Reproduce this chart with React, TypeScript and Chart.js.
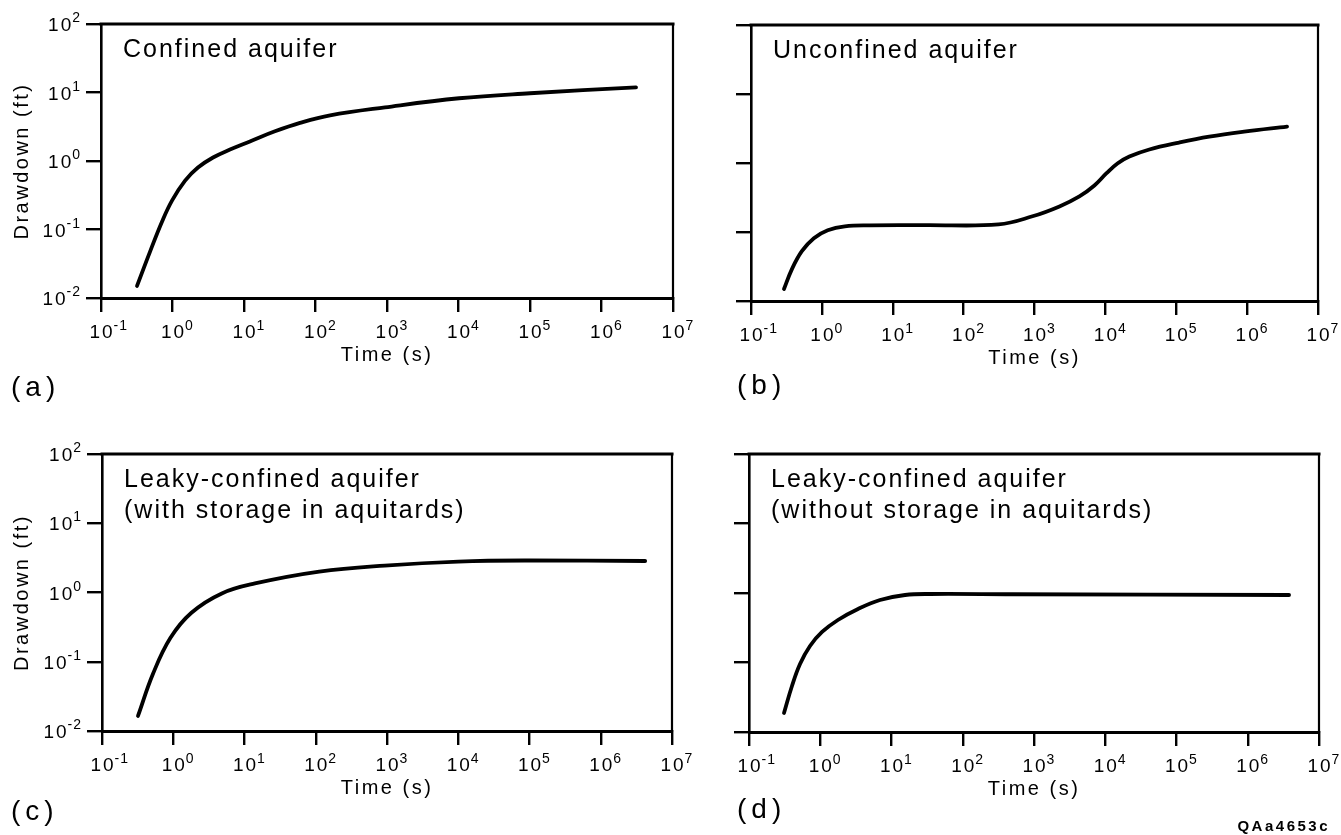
import React, { useEffect, useRef } from "react";
import { Chart, registerables } from "chart.js";

Chart.register(...registerables);

const FONT = "'Liberation Sans', Arial, Helvetica, sans-serif";

// Axis ticks and labels
const X_TICKS = [0.1, 1, 10, 100, 1000, 10000, 100000, 1000000, 10000000];
const X_TICK_EXPONENTS = ["-1", "0", "1", "2", "3", "4", "5", "6", "7"];
const Y_TICKS = [0.01, 0.1, 1, 10, 100];
const Y_TICK_EXPONENTS = ["-2", "-1", "0", "1", "2"];
const TICK_BASE = "10";

const X_TITLE = "Time (s)";
const Y_TITLE = "Drawdown (ft)";

// (a) Confined aquifer
const TIME_A = [0.319, 0.484, 0.713, 0.984, 1.5, 2.27, 3.69, 6.37, 12.1, 27.1, 60.7, 160, 938, 10200, 100000, 3040000];
const DRAWDOWN_A = [0.015, 0.0472, 0.13, 0.264, 0.518, 0.803, 1.125, 1.47, 1.93, 2.71, 3.6, 4.64, 6.08, 8.24, 9.75, 11.9];

// (b) Unconfined aquifer
const TIME_B = [0.292, 0.378, 0.522, 0.771, 1.21, 2.11, 4.74, 29, 311, 937, 2250, 4300, 7000, 10300, 14800, 21800, 41700, 110000, 292000, 908000, 3660000];
const DRAWDOWN_B = [0.0149, 0.029, 0.0527, 0.0813, 0.106, 0.121, 0.125, 0.126, 0.129, 0.169, 0.235, 0.328, 0.473, 0.705, 0.984, 1.24, 1.57, 1.98, 2.41, 2.85, 3.37];

// (c) Leaky-confined aquifer (with storage in aquitards)
const TIME_C = [0.32, 0.52, 0.91, 1.8, 4.8, 14, 112, 930, 10000, 100000, 4200000];
const DRAWDOWN_C = [0.0165, 0.067, 0.22, 0.51, 0.97, 1.35, 2.0, 2.45, 2.8, 2.9, 2.85];

// (d) Leaky-confined aquifer (without storage in aquitards)
const TIME_D = [0.31, 0.401, 0.52, 0.718, 1.06, 1.77, 3.39, 6.9, 15.5, 34.7, 491, 3800000];
const DRAWDOWN_D = [0.0188, 0.0459, 0.0951, 0.173, 0.275, 0.409, 0.589, 0.793, 0.936, 0.968, 0.96, 0.936];

const NOTE_A = ["Confined aquifer"];
const NOTE_B = ["Unconfined aquifer"];
const NOTE_C = ["Leaky-confined aquifer", "(with storage in aquitards)"];
const NOTE_D = ["Leaky-confined aquifer", "(without storage in aquitards)"];
const CODE_LABEL = "QAa4653c";

type PanelDef = {
  key: string;
  x: number;
  y: number;
  w: number;
  h: number;
  area: { l: number; r: number; t: number; b: number };
  letter: string;
  letterPos: { x: number; y: number };
  notes: string[];
  yLabels: boolean;
  time: number[];
  dd: number[];
  code?: boolean;
};

const PANELS: PanelDef[] = [
  { key: "a", x: 0, y: 0, w: 700, h: 417, area: { l: 101, r: 673, t: 24, b: 298 }, letter: "(a)", letterPos: { x: 11, y: 396 }, notes: NOTE_A, yLabels: true, time: TIME_A, dd: DRAWDOWN_A },
  { key: "b", x: 700, y: 0, w: 641, h: 417, area: { l: 51, r: 618, t: 25, b: 301 }, letter: "(b)", letterPos: { x: 37, y: 394 }, notes: NOTE_B, yLabels: false, time: TIME_B, dd: DRAWDOWN_B },
  { key: "c", x: 0, y: 417, w: 700, h: 418, area: { l: 102, r: 672, t: 37, b: 314 }, letter: "(c)", letterPos: { x: 11, y: 403 }, notes: NOTE_C, yLabels: true, time: TIME_C, dd: DRAWDOWN_C },
  { key: "d", x: 700, y: 417, w: 641, h: 418, area: { l: 49, r: 619, t: 37, b: 315 }, letter: "(d)", letterPos: { x: 37, y: 401 }, notes: NOTE_D, yLabels: false, time: TIME_D, dd: DRAWDOWN_D, code: true },
];

const decorPlugin = {
  id: "panelDecor",
  beforeDraw(chart: any) {
    (chart.ctx as any).letterSpacing = "2.5px";
  },
  afterDraw(chart: any, _args: any, opts: any) {
    const ctx = chart.ctx as any;
    const ca = chart.chartArea;
    const xs = chart.scales.x;
    const ys = chart.scales.y;
    ctx.save();
    ctx.strokeStyle = "#000";
    ctx.fillStyle = "#000";
    // top and right frame lines
    ctx.lineCap = "square";
    ctx.lineWidth = 3;
    ctx.beginPath();
    ctx.moveTo(ca.left, ca.top);
    ctx.lineTo(ca.right, ca.top);
    ctx.stroke();
    ctx.lineWidth = 2.2;
    ctx.beginPath();
    ctx.moveTo(ca.right, ca.top);
    ctx.lineTo(ca.right, ca.bottom);
    ctx.stroke();

    const baseFont = `19px ${FONT}`;
    const expFont = `14px ${FONT}`;
    ctx.textBaseline = "alphabetic";
    // x tick labels
    X_TICKS.forEach((v, i) => {
      const px = xs.getPixelForValue(v);
      ctx.font = baseFont;
      ctx.letterSpacing = "2px";
      const bw = ctx.measureText(TICK_BASE).width;
      ctx.textAlign = "left";
      ctx.fillText(TICK_BASE, px - (bw - 2) / 2, ca.bottom + 40);
      ctx.font = expFont;
      ctx.letterSpacing = "1px";
      ctx.fillText(X_TICK_EXPONENTS[i], px + (bw - 2) / 2 + 1, ca.bottom + 32);
    });
    // y tick labels
    if (opts.yLabels) {
      Y_TICKS.forEach((v, i) => {
        const py = ys.getPixelForValue(v);
        const right = ca.left - 20;
        ctx.font = expFont;
        ctx.letterSpacing = "1px";
        const ew = ctx.measureText(Y_TICK_EXPONENTS[i]).width;
        ctx.textAlign = "left";
        ctx.fillText(Y_TICK_EXPONENTS[i], right - ew, py - 2);
        ctx.font = baseFont;
        ctx.letterSpacing = "2px";
        const bw = ctx.measureText(TICK_BASE).width;
        ctx.fillText(TICK_BASE, right - ew - bw + 1, py + 7);
      });
    }
    // annotation inside the plot
    ctx.font = `25px ${FONT}`;
    ctx.letterSpacing = "2px";
    ctx.textAlign = "left";
    opts.notes.forEach((line: string, i: number) => {
      ctx.fillText(line, ca.left + 22, ca.top + 33 + i * 31);
    });
    // panel letter
    ctx.font = `28px ${FONT}`;
    ctx.letterSpacing = "5px";
    ctx.fillText(opts.letter, opts.letterPos.x, opts.letterPos.y);
    if (opts.code) {
      ctx.font = `bold 15px ${FONT}`;
      ctx.letterSpacing = "2.5px";
      ctx.textAlign = "right";
      ctx.fillText(CODE_LABEL, chart.width - 11, chart.height - 4);
    }
    ctx.restore();
  },
};

function Panel({ p }: { p: PanelDef }) {
  const ref = useRef<HTMLCanvasElement | null>(null);
  useEffect(() => {
    if (!ref.current) return;
    const a = p.area;
    const chart = new Chart(ref.current, {
      type: "line",
      data: {
        datasets: [
          {
            data: p.time.map((t, i) => ({ x: t, y: p.dd[i] })),
            borderColor: "#000",
            borderWidth: 3.8,
            pointRadius: 0,
            fill: false,
            tension: 0.4,
            cubicInterpolationMode: "default",
            borderCapStyle: "round",
            borderJoinStyle: "round",
          } as any,
        ],
      },
      options: {
        animation: false,
        responsive: false,
        maintainAspectRatio: false,
        devicePixelRatio: 1,
        events: [],
        layout: { padding: { left: 0, top: a.t, right: p.w - a.r, bottom: 0 } },
        plugins: {
          legend: { display: false },
          tooltip: { enabled: false },
          title: { display: false },
          panelDecor: { yLabels: p.yLabels, notes: p.notes, letter: p.letter, letterPos: p.letterPos, code: !!p.code },
        } as any,
        scales: {
          x: {
            type: "logarithmic",
            position: "bottom",
            min: 0.1,
            max: 10000000,
            afterBuildTicks: (s: any) => {
              s.ticks = X_TICKS.map((v) => ({ value: v }));
            },
            afterFit: (s: any) => {
              s.height = p.h - a.b;
            },
            ticks: { display: false },
            grid: { drawOnChartArea: false, drawTicks: true, tickLength: 14, color: "#000", lineWidth: 2.4 },
            border: { display: true, color: "#000", width: 3 },
            title: {
              display: true,
              text: X_TITLE,
              color: "#000",
              font: { family: FONT, size: 20 },
              padding: { top: 0, bottom: p.h - a.b - 57 - 12 },
            },
          },
          y: {
            type: "logarithmic",
            position: "left",
            min: 0.01,
            max: 100,
            afterBuildTicks: (s: any) => {
              s.ticks = Y_TICKS.map((v) => ({ value: v }));
            },
            afterFit: (s: any) => {
              s.width = a.l;
            },
            ticks: { display: false },
            grid: { drawOnChartArea: false, drawTicks: true, tickLength: 15, color: "#000", lineWidth: 2.4 },
            border: { display: true, color: "#000", width: 2.6 },
            title: {
              display: p.yLabels,
              text: Y_TITLE,
              color: "#000",
              font: { family: FONT, size: 20 },
              padding: { top: 10, bottom: 0 },
            },
          },
        },
      } as any,
      plugins: [decorPlugin as any],
    });
    return () => chart.destroy();
  }, [p]);
  return (
    <canvas
      ref={ref}
      width={p.w}
      height={p.h}
      style={{ position: "absolute", left: p.x, top: p.y, width: p.w, height: p.h }}
    />
  );
}

export default function App() {
  return (
    <div style={{ position: "fixed", left: 0, top: 0, width: 1341, height: 835, background: "#fff", overflow: "hidden" }}>
      {PANELS.map((p) => (
        <Panel key={p.key} p={p} />
      ))}
    </div>
  );
}
